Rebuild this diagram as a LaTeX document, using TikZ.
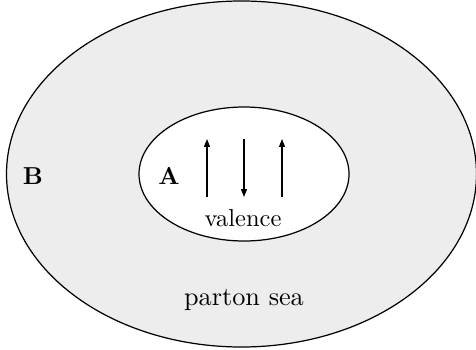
\documentclass[tikz,border=0pt]{standalone}
\usetikzlibrary{arrows.meta}
\begin{document}
\begin{tikzpicture}[x=0.408pt,y=-0.408pt,
  region/.style={draw=black,line width=0.5pt},
  spin/.style={line width=0.5pt,-{Triangle[length=3.2pt,width=2.4pt]}},
  lbl/.style={inner sep=0pt,font=\bfseries}]
\useasboundingbox (0,0) rectangle (476,349);
\path[region,fill=black!7] (241.5,174) ellipse [x radius=235,y radius=173];
\path[region,fill=white] (244,174) ellipse [x radius=105,y radius=67];
\coordinate (u1b) at (207,197); \coordinate (u1t) at (207,139);
\coordinate (dt) at (244,139); \coordinate (db) at (244,197);
\coordinate (u2b) at (282,197); \coordinate (u2t) at (282,139);
\draw[spin] (u1b) -- (u1t);
\draw[spin] (dt) -- (db);
\draw[spin] (u2b) -- (u2t);
\node[lbl] (A) at (169,176) {A};
\node[lbl] (B) at (33,176) {B};
\node[inner sep=0pt] (val) at (243,218) {valence};
\node[inner sep=0pt,font=\fontsize{10.7}{12}\selectfont] (sea) at (244,300) {parton sea};
\end{tikzpicture}
\end{document}
